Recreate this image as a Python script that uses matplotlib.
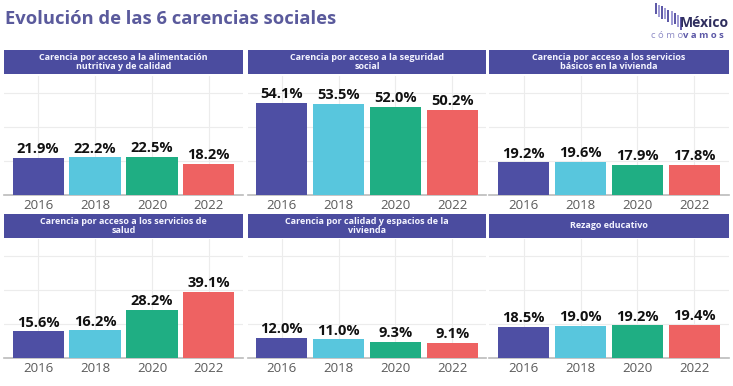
import matplotlib.pyplot as plt
from matplotlib.patches import Rectangle

plt.rcParams['font.family'] = ['Open Sans', 'DejaVu Sans']

years = ["2016", "2018", "2020", "2022"]
colors = ["#4e4fa4", "#58c6dd", "#1fae83", "#ee6262"]

titles = [
    "Carencia por acceso a la alimentación\nnutritiva y de calidad",
    "Carencia por acceso a la seguridad\nsocial",
    "Carencia por acceso a los servicios\nbásicos en la vivienda",
    "Carencia por acceso a los servicios de\nsalud",
    "Carencia por calidad y espacios de la\nvivienda",
    "Rezago educativo",
]
alimentacion = [21.9, 22.2, 22.5, 18.2]
seguridad = [54.1, 53.5, 52.0, 50.2]
servicios_basicos = [19.2, 19.6, 17.9, 17.8]
salud = [15.6, 16.2, 28.2, 39.1]
calidad_vivienda = [12.0, 11.0, 9.3, 9.1]
rezago = [18.5, 19.0, 19.2, 19.4]
series = [alimentacion, seguridad, servicios_basicos, salud, calidad_vivienda, rezago]

W, H = 733, 386
fig = plt.figure(figsize=(W / 100, H / 100), dpi=100)
fig.patch.set_facecolor("white")

def px(x, y, w, h):
    # pixel box (top-left origin) -> figure fraction
    return [x / W, 1 - (y + h) / H, w / W, h / H]

fig.text(5 / W, 1 - 19 / H, "Evolución de las 6 carencias sociales",
         fontsize=13.2, fontweight="bold", color="#5a5a9c", va="center", ha="left")

# logo: slanted stripe of thin bars
for i in range(9):
    top = 3 + i * 1.7
    hgt = 11 + (i % 3)
    x, y, w, h = px(655 + i * 3.1, top, 2.0, hgt)
    fig.patches.append(Rectangle((x, y), w, h, transform=fig.transFigure,
                                 facecolor="#a19dd6" if i % 2 else "#5f5aa8", edgecolor="none"))
fig.text(729 / W, 1 - 23 / H, "México", fontsize=10, fontweight="bold",
         color="#2f2e5e", ha="right", va="center")
fig.text(651 / W, 1 - 36 / H, "c ó m o", fontsize=6.8, color="#8f8cc6", ha="left", va="center")
fig.text(724 / W, 1 - 36 / H, "v a m o s", fontsize=6.8, fontweight="bold",
         color="#5b57a6", ha="right", va="center")

col_x = [4, 247.5, 489.5]
row_y = [(50, 76), (214, 239)]
panel_w = 239
plot_h = 119

for k, (title, vals) in enumerate(zip(titles, series)):
    r, c = divmod(k, 3)
    x0 = col_x[c]
    box_top, ax_top = row_y[r]

    hax = fig.add_axes(px(x0, box_top, panel_w, 24))
    hax.set_facecolor("#4b4c9f")
    hax.set_xticks([])
    hax.set_yticks([])
    for s in hax.spines.values():
        s.set_visible(False)
    hax.text(0.5, 0.5, title, transform=hax.transAxes, ha="center", va="center",
             color="#f4f4ff", fontsize=6.5, fontweight="bold", linespacing=1.05)

    ax = fig.add_axes(px(x0, ax_top, panel_w, plot_h))
    xs = range(len(years))
    ax.bar(xs, vals, width=0.9, color=colors, zorder=3)
    for xi, v in zip(xs, vals):
        ax.text(xi, v + 1, f"{v:.1f}%", ha="center", va="bottom",
                fontsize=10.5, fontweight="bold", color="#111111", zorder=4)
    ax.set_xlim(-0.6, 3.6)
    ax.set_ylim(0, 70)
    ax.set_yticks([20, 40, 60])
    ax.set_yticklabels([])
    ax.set_xticks(list(xs))
    ax.set_xticklabels(years, fontsize=9.5, color="#5a5a5a")
    ax.tick_params(axis="both", length=0, pad=3)
    ax.grid(True, color="#ececec", linewidth=0.8, zorder=0)
    for s in ["top", "left", "right"]:
        ax.spines[s].set_visible(False)
    ax.spines["bottom"].set_color("#bbbbbb")
    ax.spines["bottom"].set_linewidth(1.2)

fig.savefig("out.png", dpi=100, facecolor="white")
